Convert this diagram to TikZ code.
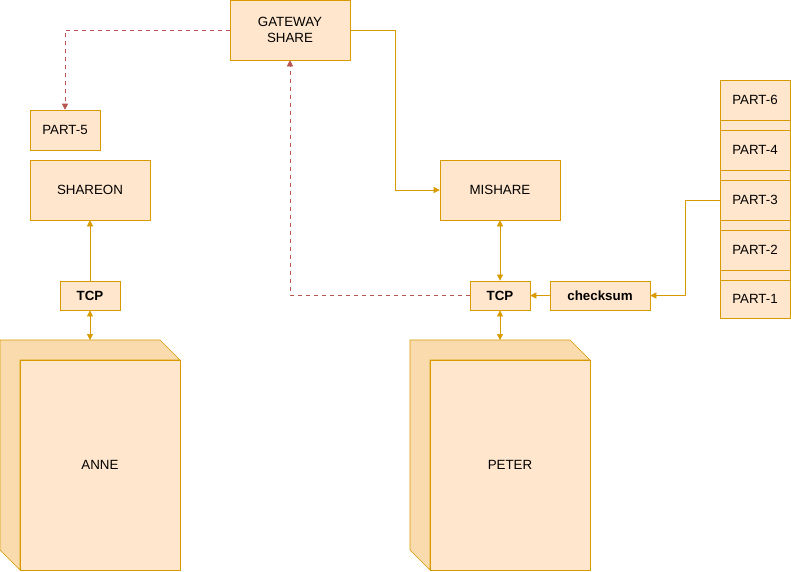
\documentclass[tikz,border=0pt]{standalone}
\usepackage{fontspec}
\setmainfont{Liberation Sans}
\usetikzlibrary{positioning,arrows.meta}
\definecolor{boxfill}{HTML}{FFE6CC}
\definecolor{boxline}{HTML}{D79B00}
\definecolor{dashred}{HTML}{B85450}
\tikzset{
  box/.style={draw=boxline,fill=boxfill,minimum width=#1*0.75pt,inner sep=0pt,font=\fontsize{10}{12}\selectfont},
  conn/.style={draw=boxline,-{Triangle[length=4.5pt,width=4.5pt]}},
  biconn/.style={draw=boxline,{Triangle[length=4.5pt,width=4.5pt]}-{Triangle[length=4.5pt,width=4.5pt]}},
  back/.style={draw=dashred,dashed,-{Triangle[length=4.5pt,width=4.5pt]}},
}
\begin{document}
\begin{tikzpicture}[x=0.75pt,y=-0.75pt]
\useasboundingbox (0,0) rectangle (791,571);

% boxes
\node [box=120,minimum height=45pt,align=center] (gw) at (290,30) {GATEWAY\\SHARE};
\node [box=70,minimum height=30pt] (p5) at (65,130) {PART-5};
\node [box=120,minimum height=45pt] (shareon) at (90,190) {SHAREON};
\node [box=120,minimum height=45pt] (mishare) at (500,190) {MISHARE};
\node [box=60,minimum height=22pt,font=\fontsize{10}{12}\selectfont\bfseries] (tcpl) at (90,295.5) {TCP};
\node [box=60,minimum height=22pt,font=\fontsize{10}{12}\selectfont\bfseries] (tcpr) at (500,295.5) {TCP};
\node [box=100,minimum height=22pt,font=\fontsize{10}{12}\selectfont\bfseries] (chk) at (600,295.5) {checksum};

% part stack
\draw [draw=boxline,fill=boxfill] (720,80) rectangle (790,318);
\foreach \y in {120,130,170,180,220,230,270,280}
  \draw [boxline] (720,\y) -- (790,\y);
\foreach \n/\y in {6/100,4/150,3/200,2/250,1/299}
  \node [font=\fontsize{10}{12}\selectfont] (part\n) at (755,\y) {PART-\n};
\coordinate (p3w) at (720,200);

% cubes
\foreach \nm/\x in {ANNE/0,PETER/410}{
  \draw [draw=boxline,fill=boxfill!85!boxline] (\x,340) -- (\x+160,340) -- (\x+180,360) -- (\x+20,360) -- (\x+20,570) -- (\x,550) -- cycle;
  \draw [draw=boxline,fill=boxfill] (\x+20,360) rectangle (\x+180,570);
  \node [font=\fontsize{10}{12}\selectfont] (\nm) at (\x+100,465) {\nm};
}
\coordinate (annetop) at (90,340);
\coordinate (petertop) at (500,340);

% connectors
\draw [back] (gw.west) -| (p5.north);
\draw [conn] (gw.east) -| (395,190) -- (mishare.west);
\draw [conn] (tcpl) -- (shareon);
\draw [biconn] (tcpl) -- (annetop);
\draw [biconn] (mishare) -- (tcpr);
\draw [biconn] (tcpr) -- (petertop);
\draw [conn] (chk) -- (tcpr);
\draw [conn] (p3w) -- (685,200) |- (chk.east);
\draw [back] (tcpr.west) -| (gw.south);
\end{tikzpicture}
\end{document}
